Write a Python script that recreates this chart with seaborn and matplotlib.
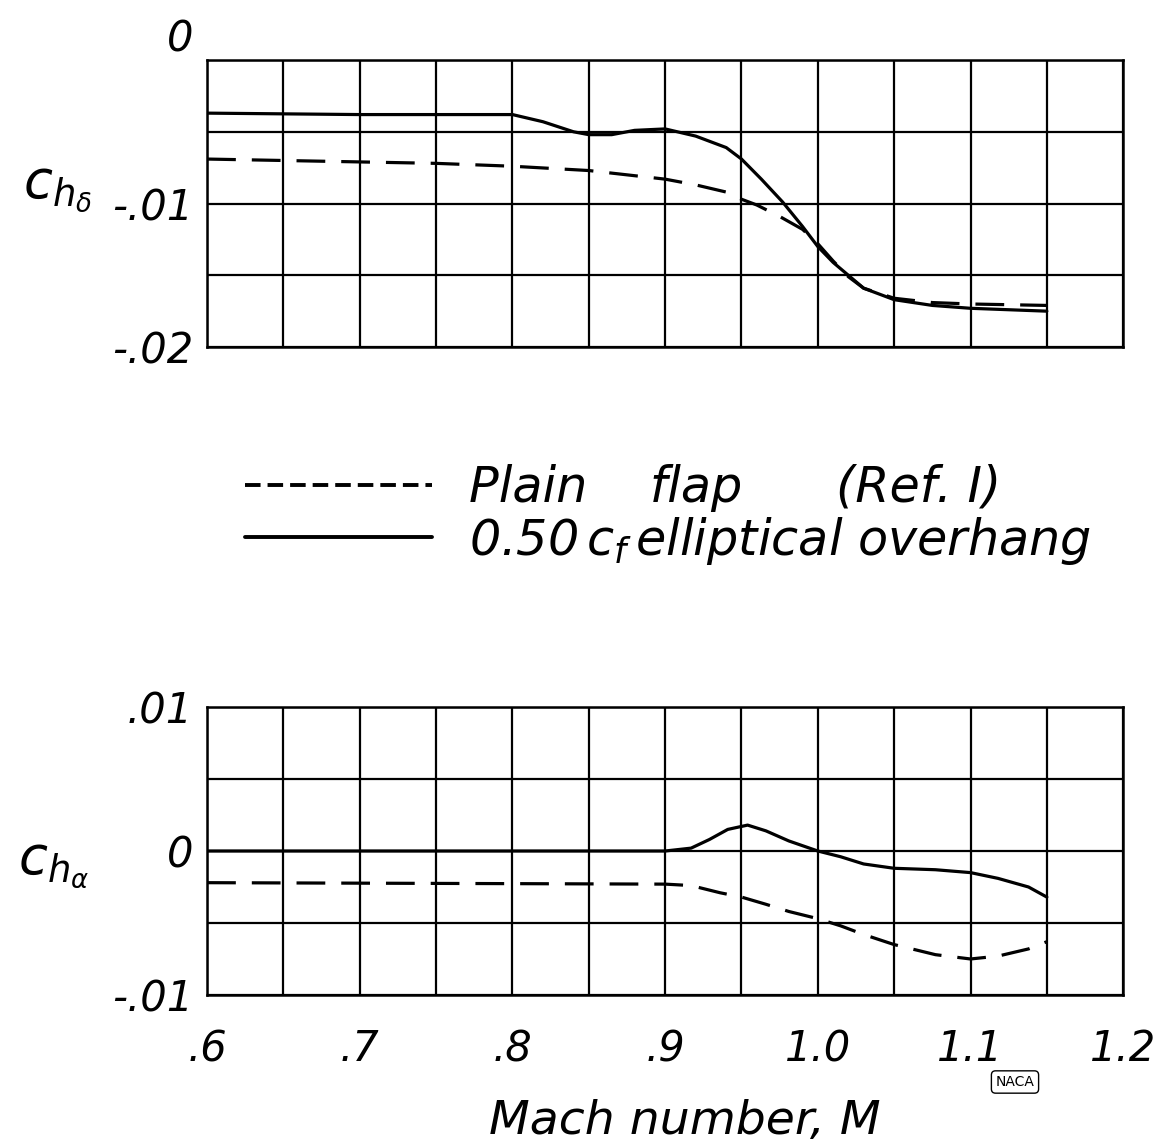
import numpy as np
import pandas as pd
import matplotlib.pyplot as plt
import seaborn as sns
from matplotlib.lines import Line2D

# Hinge-moment derivatives
mach_top_plain = [0.6, 0.7, 0.75, 0.8, 0.85, 0.875, 0.9, 0.92, 0.94, 0.95, 0.96, 0.975,
                  0.99, 1.0, 1.01, 1.02, 1.03, 1.05, 1.075, 1.1, 1.15]
chd_plain = [-0.0069, -0.0071, -0.0072, -0.0074, -0.0077, -0.0080, -0.0083, -0.0087,
             -0.0092, -0.0097, -0.0101, -0.0109, -0.0118, -0.0128, -0.0140, -0.0151,
             -0.0159, -0.0166, -0.0169, -0.0170, -0.0171]

mach_top_ell = [0.6, 0.7, 0.8, 0.82, 0.84, 0.85, 0.865, 0.88, 0.9, 0.92, 0.94, 0.95, 0.963,
                0.977, 0.99, 1.0, 1.01, 1.02, 1.03, 1.05, 1.075, 1.1, 1.15]
chd_ell = [-0.0037, -0.0038, -0.0038, -0.0043, -0.0050, -0.0052, -0.0052, -0.0049, -0.0048,
           -0.0053, -0.0061, -0.0069, -0.0083, -0.0099, -0.0116, -0.0130, -0.0141, -0.0150,
           -0.0159, -0.0167, -0.0171, -0.0173, -0.0175]

mach_bot_plain = [0.6, 0.9, 0.917, 0.936, 0.95, 0.966, 0.981, 1.0, 1.015, 1.03, 1.05, 1.077,
                  1.1, 1.118, 1.138, 1.15]
cha_plain = [-0.0022, -0.0023, -0.0024, -0.0029, -0.0032, -0.0037, -0.0042, -0.0047, -0.0052,
             -0.0058, -0.0065, -0.0072, -0.0075, -0.0073, -0.0068, -0.0063]

mach_bot_ell = [0.6, 0.9, 0.917, 0.929, 0.941, 0.954, 0.966, 0.981, 1.0, 1.015, 1.03, 1.05,
                1.077, 1.1, 1.118, 1.138, 1.15]
cha_ell = [0.0, 0.0, 0.0002, 0.0008, 0.0015, 0.0018, 0.0014, 0.0007, 0.0, -0.0004, -0.0009,
           -0.0012, -0.0013, -0.0015, -0.0019, -0.0025, -0.0032]

x_ticks = [0.6, 0.7, 0.8, 0.9, 1.0, 1.1, 1.2]
x_labels = ['.6', '.7', '.8', '.9', '1.0', '1.1', '1.2']
top_yticks = [-0.02, -0.015, -0.01, -0.005, 0.0]
top_ylabels = ['-.02', '', '-.01', '', '0']
bot_yticks = [-0.01, -0.005, 0.0, 0.005, 0.01]
bot_ylabels = ['-.01', '', '0', '', '.01']

series_names = ['Plain flap', 'Elliptical overhang']

top = pd.concat([
    pd.DataFrame({'M': mach_top_plain, 'ch': chd_plain, 'config': series_names[0]}),
    pd.DataFrame({'M': mach_top_ell, 'ch': chd_ell, 'config': series_names[1]}),
])
bot = pd.concat([
    pd.DataFrame({'M': mach_bot_plain, 'ch': cha_plain, 'config': series_names[0]}),
    pd.DataFrame({'M': mach_bot_ell, 'ch': cha_ell, 'config': series_names[1]}),
])

sns.set_style('white')
plt.rcParams['font.family'] = ['DejaVu Sans']
plt.rcParams['font.style'] = 'oblique'
plt.rcParams['mathtext.fontset'] = 'custom'
plt.rcParams['mathtext.rm'] = 'DejaVu Sans'
plt.rcParams['mathtext.it'] = 'DejaVu Sans:italic'
plt.rcParams['mathtext.bf'] = 'DejaVu Sans:bold'
for key in ['text.color', 'axes.labelcolor', 'xtick.color', 'ytick.color']:
    plt.rcParams[key] = 'black'

fig = plt.figure(figsize=(11.7, 11.48), dpi=100)
ax_top = fig.add_axes([0.177, 0.6977, 0.783, 0.25])
ax_bot = fig.add_axes([0.177, 0.1333, 0.783, 0.2508])

dash_map = {series_names[0]: (9, 5), series_names[1]: ''}
fs = 30

for ax, df, yt, yl in [(ax_top, top, top_yticks, top_ylabels),
                       (ax_bot, bot, bot_yticks, bot_ylabels)]:
    sns.lineplot(data=df, x='M', y='ch', style='config', dashes=dash_map, color='black',
                 linewidth=2.3, estimator=None, sort=False, legend=False, ax=ax)
    ax.set_xlim(0.6, 1.2)
    ax.set_ylim(yt[0], yt[-1])
    ax.set_xticks(x_ticks)
    ax.set_xticks(np.arange(0.65, 1.2, 0.1), minor=True)
    ax.set_yticks(yt)
    ax.set_yticklabels(yl, fontsize=fs)
    ax.grid(True, which='both', color='black', linewidth=1.6)
    ax.tick_params(which='both', length=0)
    ax.tick_params(axis='y', pad=10)
    for s in ax.spines.values():
        s.set_color('black')
        s.set_linewidth(1.8)
    ax.set_xlabel('')
    ax.set_ylabel('')

ax_top.set_xticklabels([])
ax_bot.set_xticklabels(x_labels, fontsize=fs)
ax_bot.tick_params(axis='x', pad=24)

# the "0" on the upper panel sits above the frame
ax_top.get_yticklabels()[-1].set_va('bottom')

ax_top.set_ylabel(r'$c_{h_\delta}$', rotation=0, fontsize=38, va='center', ha='center')
ax_top.yaxis.set_label_coords(-0.163, 0.55)
ax_bot.set_ylabel(r'$c_{h_\alpha}$', rotation=0, fontsize=38, va='center', ha='center')
ax_bot.yaxis.set_label_coords(-0.168, 0.45)

ax_bot.set_xlabel('Mach number, M', fontsize=34, va='center')
ax_bot.xaxis.set_label_coords(0.522, -0.44)

handles = [Line2D([], [], color='black', linewidth=2.8, linestyle=(0, (4, 1.8))),
           Line2D([], [], color='black', linewidth=2.8)]
labels = ['Plain    flap      (Ref. I)', r'0.50$\,c_f\,$elliptical overhang']
fig.legend(handles, labels, loc='center left', bbox_to_anchor=(0.188, 0.551),
           frameon=False, fontsize=35.5, handlelength=3.8, handletextpad=0.75,
           labelspacing=0.05, borderpad=0)

fig.text(1015 / 1170, 1 - 1082 / 1148, 'NACA', fontsize=10, style='normal',
         ha='center', va='center',
         bbox=dict(boxstyle='round,pad=0.3', fc='white', ec='black', lw=1))

fig.savefig('out.png', dpi=100)
